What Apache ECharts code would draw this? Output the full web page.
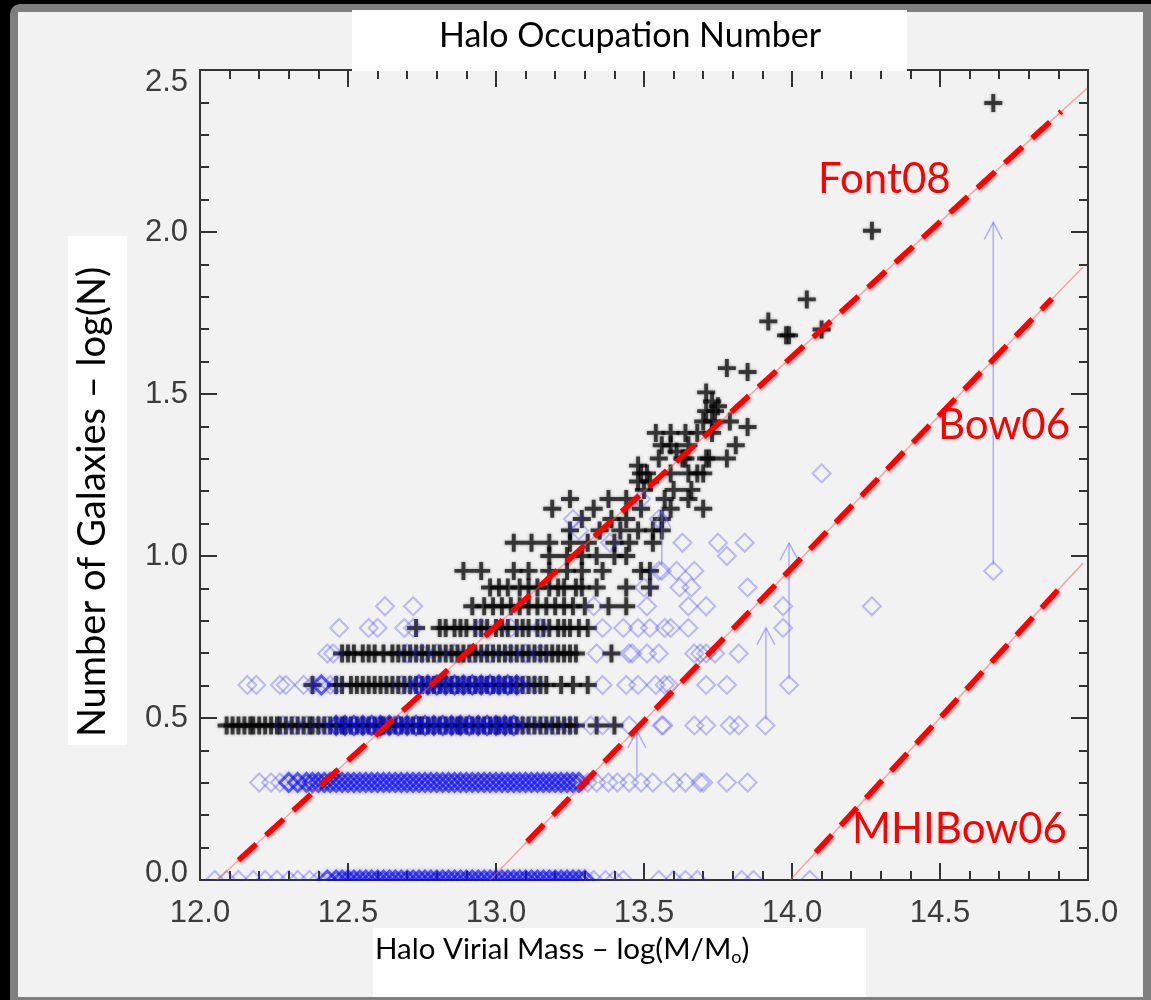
<!DOCTYPE html>
<html>
<head>
<meta charset="utf-8">
<script src="https://cdn.jsdelivr.net/npm/echarts@6/dist/echarts.min.js"></script>
<style>
  html, body { margin: 0; padding: 0; background: #000; }
  #frame { position: absolute; left: 10px; top: 4px; width: 1141px; height: 996px; background: #7f7f7f; border-radius: 10px 0 0 0; }
  #inner { position: absolute; left: 18px; top: 12px; width: 1125px; height: 985px; background: #f2f2f2; }
  #chart { position: absolute; left: 0; top: 0; width: 1151px; height: 1000px; }
</style>
</head>
<body>
<div id="frame"></div>
<div id="inner"></div>
<div id="chart"></div>
<script>
// ---- Halo occupation: galaxies per halo vs halo virial mass ----

// Axis ticks
const xTicks = [12.0, 12.5, 13.0, 13.5, 14.0, 14.5, 15.0];
const yTicks = [0.0, 0.5, 1.0, 1.5, 2.0, 2.5];

// Black crosses: one row of halo masses for each log(N) level
const crossLevels = [0.477, 0.602, 0.699, 0.778, 0.845, 0.903, 0.954, 1.000, 1.041, 1.079,
  1.114, 1.146, 1.176, 1.204, 1.230, 1.255, 1.279, 1.301, 1.322, 1.342, 1.380, 1.398,
  1.415, 1.447, 1.462, 1.477, 1.505];
const crossRowX = [
  [12.09,12.11,12.13,12.15,12.17,12.18,12.20,12.22,12.24,12.26,12.27,12.29,12.31,12.33,12.35,12.37,12.38,12.40,12.42,12.44,12.46,12.48,12.49,12.51,12.53,12.55,12.57,12.59,12.61,12.62,12.64,12.66,12.68,12.70,12.72,12.74,12.75,12.77,12.79,12.81,12.83,12.85,12.87,12.88,12.90,12.92,12.94,12.96,12.98,13.00,13.01,13.03,13.05,13.07,13.09,13.11,13.13,13.15,13.17,13.19,13.21,13.23,13.25,13.27,13.34,13.40],
  [12.38,12.46,12.48,12.51,12.53,12.55,12.57,12.59,12.61,12.63,12.65,12.67,12.69,12.71,12.73,12.75,12.77,12.79,12.81,12.83,12.85,12.87,12.89,12.91,12.93,12.95,12.97,12.99,13.01,13.03,13.05,13.07,13.09,13.11,13.13,13.15,13.17,13.22,13.26,13.31],
  [12.48,12.50,12.52,12.55,12.57,12.59,12.62,12.65,12.67,12.69,12.71,12.73,12.75,12.77,12.79,12.81,12.83,12.85,12.87,12.89,12.91,12.93,12.95,12.97,12.99,13.01,13.03,13.05,13.07,13.09,13.11,13.13,13.15,13.17,13.19,13.21,13.23,13.25,13.27,13.39],
  [12.73,12.81,12.83,12.86,12.88,12.90,12.93,12.95,12.97,13.00,13.02,13.04,13.07,13.09,13.11,13.14,13.16,13.18,13.21,13.23,13.25,13.28,13.31],
  [12.92,12.96,12.99,13.02,13.05,13.08,13.11,13.14,13.17,13.20,13.23,13.26,13.30,13.38,13.44],
  [12.98,13.01,13.04,13.08,13.11,13.14,13.18,13.21,13.23,13.27,13.29,13.34,13.44,13.52],
  [12.89,12.95,13.06,13.11,13.18,13.24,13.29,13.36,13.49,13.52],
  [13.18,13.24,13.29,13.34,13.40,13.44],
  [13.06,13.12,13.18,13.25,13.31,13.40,13.45,13.53],
  [13.25,13.35,13.42,13.48,13.53,13.56],
  [13.29,13.39,13.44,13.56],
  [13.19,13.33,13.49,13.59,13.70],
  [13.25,13.38,13.44,13.57,13.65],
  [13.50,13.60,13.66],
  [13.48,13.52],
  [13.49,13.51,13.59,13.65,13.68,13.70],
  [13.48],
  [13.55,13.63,13.64,13.71,13.72,13.78],
  [13.61],
  [13.56,13.59,13.65,13.81],
  [13.54,13.59,13.64,13.68,13.73],
  [13.85],
  [13.70,13.73,13.79],
  [13.71,13.74],
  [13.75],
  [13.73],
  [13.71]
];
// Most massive halos, read individually
const crossTail = [[13.78,1.580],[13.85,1.568],[13.92,1.724],[13.98,1.681],[13.99,1.681],
  [14.05,1.792],[14.10,1.699],[14.27,2.004],[14.68,2.398]];

// Blue diamonds: one row of halo masses for each log(N) level
const diamondLevels = [0.000, 0.301, 0.477, 0.602, 0.699, 0.778, 0.845, 0.903, 0.954,
  1.000, 1.041, 1.079, 1.114, 1.176, 1.255];
const diamondRowX = [
  [12.05,12.09,12.13,12.18,12.22,12.26,12.30,12.33,12.37,12.40,12.43,12.46,12.48,12.50,12.52,12.54,12.56,12.58,12.60,12.62,12.64,12.66,12.68,12.70,12.72,12.74,12.76,12.78,12.80,12.82,12.84,12.86,12.88,12.90,12.92,12.94,12.96,12.98,13.00,13.02,13.04,13.06,13.08,13.10,13.12,13.14,13.16,13.18,13.20,13.22,13.24,13.26,13.28,13.30,13.33,13.37,13.40,13.43,13.55,13.60,13.64,13.68,13.83,13.87,14.06],
  [12.20,12.24,12.27,12.30,12.33,12.36,12.38,12.40,12.42,12.44,12.46,12.48,12.50,12.52,12.54,12.56,12.58,12.60,12.62,12.64,12.66,12.68,12.70,12.72,12.74,12.76,12.78,12.80,12.82,12.84,12.86,12.88,12.90,12.92,12.94,12.96,12.98,13.00,13.02,13.04,13.06,13.08,13.10,13.12,13.14,13.16,13.18,13.20,13.22,13.24,13.26,13.28,13.31,13.34,13.38,13.41,13.45,13.49,13.53,13.60,13.64,13.69,13.70,13.78,13.85],
  [12.28,12.32,12.36,12.40,12.43,12.46,12.49,12.52,12.55,12.58,12.61,12.64,12.67,12.70,12.73,12.76,12.79,12.82,12.85,12.88,12.91,12.94,12.97,13.00,13.03,13.06,13.09,13.12,13.16,13.20,13.25,13.32,13.36,13.45,13.56,13.565,13.67,13.71,13.79,13.82,13.91],
  [12.16,12.19,12.27,12.29,12.35,12.38,12.41,12.44,12.46,12.68,12.71,12.74,12.77,12.80,12.83,12.86,12.89,12.92,12.95,12.98,13.01,13.04,13.07,13.10,13.13,13.36,13.44,13.48,13.54,13.57,13.585,13.71,13.78,13.99],
  [12.43,12.45,12.70,12.75,12.80,12.86,12.92,12.98,13.05,13.10,13.15,13.34,13.45,13.46,13.51,13.55,13.67,13.69,13.71,13.74,13.82],
  [12.47,12.57,12.60,12.69,12.72,12.95,13.05,13.15,13.36,13.43,13.48,13.52,13.57,13.59,13.65,13.97],
  [12.625,12.72,13.33,13.51,13.65,13.71,13.97,14.27],
  [13.50,13.62,13.66,13.85],
  [13.55,13.56,13.61,13.67,14.68],
  [13.78],
  [13.385,13.63,13.75,13.84],
  [13.28],
  [13.26,13.55],
  [13.49],
  [14.10]
];

// Upward arrows (lower limits): mass, start level, arrow tip level
const arrowX    = [13.476, 13.56, 13.912, 13.99, 14.68];
const arrowFrom = [0.301, 0.954, 0.477, 0.602, 0.954];
const arrowTo   = [0.46, 1.14, 0.778, 1.04, 2.03];

// Model relations: full extent and the dashed part
const modelNames = ['Font08', 'Bow06', 'MHIBow06'];
const modelFull = [
  [[12.057, 0.0], [14.997, 2.444]],
  [[12.980, 0.0], [14.983, 1.892]],
  [[13.994, 0.0], [14.983, 0.978]]
];
const modelDashed = [
  [[12.13, 0.061], [14.91, 2.372]],
  [[13.105, 0.118], [14.878, 1.794]],
  [[14.08, 0.085], [14.91, 0.906]]
];

// ---- build point lists from the rows ----
const crossPoints = [];
crossLevels.forEach((y, i) => crossRowX[i].forEach(x => crossPoints.push([x, y])));
crossTail.forEach(p => crossPoints.push(p));

// Diamonds in crowded stretches of a row are stroked more strongly,
// so the overlapping bands read as solid blue.
const lightDiamond = { color: 'rgba(0,0,0,0)', borderColor: 'rgba(45,45,255,0.36)', borderWidth: 2 };
const denseDiamond = {
  color: 'rgba(0,0,0,0)', borderColor: 'rgba(15,15,240,0.78)', borderWidth: 3,
  shadowColor: 'rgba(30,30,240,0.45)', shadowBlur: 4
};
const diamondPoints = [];
diamondLevels.forEach((y, i) => {
  const row = diamondRowX[i];
  row.forEach(x => {
    const near = row.filter(o => Math.abs(o - x) <= 0.065).length - 1;
    diamondPoints.push({ value: [x, y], itemStyle: near >= 4 ? denseDiamond : lightDiamond });
  });
});

const arrowData = arrowX.map((x, i) => [x, arrowFrom[i], arrowTo[i]]);

const plusPath = 'path://M-1.3,-6H1.3V-1.3H6V1.3H1.3V6H-1.3V1.3H-6V-1.3H-1.3Z';
const axisColor = '#333';
const tickFont = 'Liberation Sans';

function xAxisDef(pos, showLabel) {
  return {
    type: 'value', position: pos, min: 12, max: 15, interval: 0.5,
    axisLine: { show: true, onZero: false, lineStyle: { color: axisColor, width: 2 } },
    axisTick: { show: true, inside: true, length: 17, lineStyle: { color: axisColor, width: 2 } },
    minorTick: { show: true, splitNumber: 5, length: 9, lineStyle: { color: axisColor, width: 2 } },
    splitLine: { show: false },
    axisLabel: {
      show: showLabel, margin: 18, fontSize: 31, color: '#3c3c3c', fontFamily: tickFont,
      formatter: v => xTicks.includes(v) ? v.toFixed(1) : ''
    }
  };
}
function yAxisDef(pos, showLabel) {
  return {
    type: 'value', position: pos, min: 0, max: 2.5, interval: 0.5,
    axisLine: { show: true, onZero: false, lineStyle: { color: axisColor, width: 2 } },
    axisTick: { show: true, inside: true, length: 17, lineStyle: { color: axisColor, width: 2 } },
    minorTick: { show: true, splitNumber: 5, length: 9, lineStyle: { color: axisColor, width: 2 } },
    splitLine: { show: false },
    axisLabel: {
      show: showLabel, margin: 12, fontSize: 31, color: '#3c3c3c', fontFamily: tickFont,
      formatter: v => {
        const s = v.toFixed(1);
        if (v === yTicks[yTicks.length - 1]) return '{top|' + s + '}';
        if (v === yTicks[0]) return '{bot|' + s + '}';
        return s;
      },
      rich: {
        top: { fontSize: 31, color: '#3c3c3c', fontFamily: tickFont, padding: [24, 0, 0, 0] },
        bot: { fontSize: 31, color: '#3c3c3c', fontFamily: tickFont, padding: [0, 0, 14, 0] }
      }
    }
  };
}

const series = [
  {
    name: 'crosses', type: 'scatter', data: crossPoints, symbol: plusPath, symbolSize: 18,
    clip: true, silent: true, z: 2,
    itemStyle: { color: 'rgba(0,0,0,0.85)', shadowBlur: 3, shadowColor: 'rgba(0,0,0,0.55)' }
  },
  {
    name: 'diamonds', type: 'scatter', data: diamondPoints, symbol: 'diamond', symbolSize: 18,
    clip: true, silent: true, z: 3
  },
  {
    name: 'limits', type: 'custom', data: arrowData, silent: true, z: 4,
    renderItem: (params, api) => {
      const p0 = api.coord([api.value(0), api.value(1)]);
      const p1 = api.coord([api.value(0), api.value(2)]);
      const st = { stroke: 'rgba(110,110,255,0.5)', fill: 'none', lineWidth: 1.5 };
      return {
        type: 'group', children: [
          { type: 'line', shape: { x1: p0[0], y1: p0[1] - 6, x2: p1[0], y2: p1[1] }, style: st },
          { type: 'polyline', shape: { points: [[p1[0] - 9, p1[1] + 17], [p1[0], p1[1]], [p1[0] + 9, p1[1] + 17]] }, style: st }
        ]
      };
    }
  }
];

modelNames.forEach((nm, i) => {
  series.push({
    name: nm + ' full', type: 'line', data: modelFull[i], symbol: 'none', silent: true, z: 5,
    lineStyle: { color: 'rgba(255,90,90,0.5)', width: 1.5 }
  });
  series.push({
    name: nm, type: 'line', data: modelDashed[i], symbol: 'none', silent: true, z: 6,
    lineStyle: {
      color: '#ff0000', width: 5.5, type: [24, 13], cap: 'butt',
      shadowColor: 'rgba(0,0,0,0.35)', shadowBlur: 3, shadowOffsetX: 1, shadowOffsetY: 2
    }
  });
});

const labelFont = 'Lato';
const chart = echarts.init(document.getElementById('chart'), null, { renderer: 'canvas' });
chart.setOption({
  backgroundColor: 'transparent',
  animation: false,
  grid: { left: 200, top: 70, right: 63, bottom: 120, containLabel: false },
  xAxis: [xAxisDef('bottom', true), xAxisDef('top', false)],
  yAxis: [yAxisDef('left', true), yAxisDef('right', false)],
  series: series,
  graphic: [
    // hides the lower halves of the markers sitting on the bottom axis
    { type: 'rect', z: 50, silent: true, shape: { x: 202, y: 881, width: 884, height: 16 }, style: { fill: '#f2f2f2' } },
    { type: 'rect', z: 100, shape: { x: 352, y: 10, width: 555, height: 61 }, style: { fill: '#fff' } },
    { type: 'text', z: 101, x: 630, y: 36,
      style: { text: 'Halo Occupation Number', fontFamily: labelFont, fontSize: 34, fill: '#000', align: 'center', verticalAlign: 'middle' } },
    { type: 'rect', z: 100, shape: { x: 68, y: 236, width: 59, height: 509 }, style: { fill: '#fff' } },
    { type: 'text', z: 101, x: 93, y: 502, rotation: Math.PI / 2,
      style: { text: 'Number of Galaxies – log(N)', fontFamily: labelFont, fontSize: 38, fill: '#000', align: 'center', verticalAlign: 'middle' } },
    { type: 'rect', z: 100, shape: { x: 373, y: 928, width: 493, height: 69 }, style: { fill: '#fff' } },
    { type: 'text', z: 101, x: 375, y: 949,
      style: {
        text: 'Halo Virial Mass – log(M/M{sub|o})', fontFamily: labelFont, fontSize: 29.5, fill: '#000',
        align: 'left', verticalAlign: 'middle',
        rich: { sub: { fontFamily: labelFont, fontSize: 18, fill: '#000', padding: [16, 0, 0, 0] } }
      } },
    { type: 'text', z: 101, x: 818, y: 179,
      style: { text: modelNames[0], fontFamily: labelFont, fontSize: 42, fill: '#ff0000', align: 'left', verticalAlign: 'middle' } },
    { type: 'text', z: 101, x: 938, y: 425,
      style: { text: modelNames[1], fontFamily: labelFont, fontSize: 42, fill: '#ff0000', align: 'left', verticalAlign: 'middle' } },
    { type: 'text', z: 101, x: 852, y: 829,
      style: { text: modelNames[2], fontFamily: labelFont, fontSize: 42, fill: '#ff0000', align: 'left', verticalAlign: 'middle' } }
  ]
});
</script>
</body>
</html>
